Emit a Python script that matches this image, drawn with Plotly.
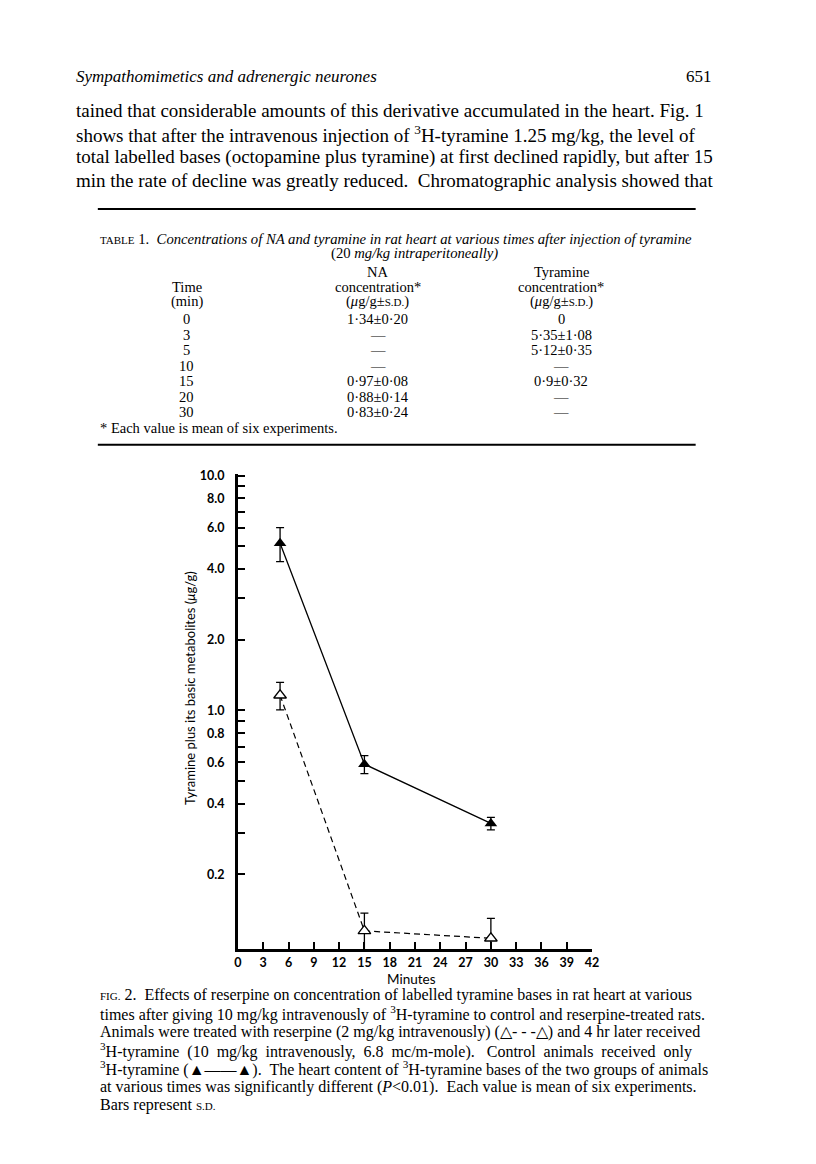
import plotly.graph_objects as go

# ---- Fig. 2 data ----
minutes = [5, 15, 30]
control_mean = [5.15, 0.59, 0.33]
control_sd = [0.85, 0.052, 0.02]
reserpine_mean = [1.16, 0.115, 0.107]
reserpine_sd = [0.155, 0.022, 0.023]

x_ticks = [0, 3, 6, 9, 12, 15, 18, 21, 24, 27, 30, 33, 36, 39, 42]
y_ticks = [0.2, 0.4, 0.6, 0.8, 1.0, 2.0, 4.0, 6.0, 8.0, 10.0]
y_ticktext = ["0.2", "0.4", "0.6", "0.8", "1.0", "2.0", "4.0", "6.0", "8.0", "10.0"]
y_minor = [0.3, 0.5, 0.7, 0.9, 3.0, 5.0, 7.0, 9.0]

# ---- Table 1 ----
table_time = ["0", "3", "5", "10", "15", "20", "30"]
table_na = ["1·34±0·20", "—", "—", "—", "0·97±0·08", "0·88±0·14", "0·83±0·24"]
table_tyr = ["0", "5·35±1·08", "5·12±0·35", "—", "0·9±0·32", "—", "—"]

body_lines = [
    "tained that considerable amounts of this derivative accumulated in the heart. Fig. 1",
    "shows that after the intravenous injection of <sup>3</sup>H-tyramine 1.25 mg/kg, the level of",
    "total labelled bases (octopamine plus tyramine) at first declined rapidly, but after 15",
    "min the rate of decline was greatly reduced.  Chromatographic analysis showed that",
]

SC = "<span style='font-size:11px'>%s</span>"
caption_lines = [
    SC % "FIG." + " 2.  Effects of reserpine on concentration of labelled tyramine bases in rat heart at various",
    "times after giving 10 mg/kg intravenously of <sup>3</sup>H-tyramine to control and reserpine-treated rats.",
    "Animals were treated with reserpine (2 mg/kg intravenously) (△- - -△) and 4 hr later received",
    "<sup>3</sup>H-tyramine  (10  mg/kg  intravenously,  6.8  mc/m-mole).   Control  animals  received  only",
    "<sup>3</sup>H-tyramine (▲——▲).  The heart content of <sup>3</sup>H-tyramine bases of the two groups of animals",
    "at various times was significantly different (<i>P</i><0.01).  Each value is mean of six experiments.",
    "Bars represent " + SC % "S.D.",
]

W, H = 816, 1164
SERIF = "Liberation Serif"
SANS = "Lato"


def px(x):
    return x / W


def py(y):
    return 1 - y / H


notes = []


def text(x, y, s, size, anchor="left", family=SERIF, **kw):
    d = dict(x=px(x), y=py(y), xref="paper", yref="paper", text=s, showarrow=False,
             xanchor=anchor, yanchor="middle",
             font=dict(family=family, size=size, color="black"))
    d.update(kw)
    notes.append(d)


# running head + body text
text(63, 63, "<i>Sympathomimetics and adrenergic neurones</i>", 17)
text(712, 63, "651", 17, anchor="right")
for i, line in enumerate(body_lines):
    text(63, 97 + 23.5 * i, line, 19)

# table
text(87, 226, SC % "TABLE" + " 1.  <i>Concentrations of NA and tyramine in rat heart at various times after injection of tyramine</i>", 14.7)
text(408, 241, "(20 <i>mg/kg intraperitoneally)</i>", 14.7, anchor="center")
text(371, 259, "NA", 14.5, anchor="center")
text(557, 259, "Tyramine", 14.5, anchor="center")
text(177, 274, "Time", 14.5, anchor="center")
text(371, 274, "concentration*", 14.5, anchor="center")
text(557, 274, "concentration*", 14.5, anchor="center")
text(177, 289, "(min)", 14.5, anchor="center")
text(371, 289, "(<i>μ</i>g/g±" + SC % "S.D." + ")", 14.5, anchor="center")
text(557, 289, "(<i>μ</i>g/g±" + SC % "S.D." + ")", 14.5, anchor="center")
for i in range(len(table_time)):
    yy = 307 + 15.5 * i
    text(177, yy, table_time[i], 14.5, anchor="center")
    text(371, yy, table_na[i], 14.5, anchor="center")
    text(557, yy, table_tyr[i], 14.5, anchor="center")
text(87, 416, "* Each value is mean of six experiments.", 14.5)

# figure labels
text(180, 678, "Tyramine plus its basic metabolites (<i>μ</i>g/g)", 13, anchor="center",
     family=SANS, textangle=-90)
text(405, 970, "Minutes", 13.5, anchor="center", family=SANS)
for i, line in enumerate(caption_lines):
    text(87, 986 + 18.5 * i, line, 16)

fig = go.Figure()
fig.add_trace(go.Scatter(
    x=minutes, y=reserpine_mean, mode="lines+markers", name="reserpine",
    line=dict(color="black", width=1.2, dash="6px,4px"),
    marker=dict(symbol="triangle-up", size=11, color="white",
                line=dict(color="black", width=1.3)),
    error_y=dict(type="data", array=reserpine_sd, color="black", thickness=1.3, width=4),
))
fig.add_trace(go.Scatter(
    x=minutes, y=control_mean, mode="lines+markers", name="control",
    line=dict(color="black", width=1.3),
    marker=dict(symbol="triangle-up", size=11, color="black"),
    error_y=dict(type="data", array=control_sd, color="black", thickness=1.3, width=4),
))

tickfont = dict(family=SANS, size=12.5, color="black", weight="bold")
fig.update_layout(
    width=W, height=H,
    margin=dict(l=0, r=0, t=0, b=0),
    paper_bgcolor="white", plot_bgcolor="white",
    showlegend=False,
    annotations=notes,
    shapes=[
        dict(type="line", xref="paper", yref="paper", x0=px(87), x1=px(693),
             y0=py(196), y1=py(196), line=dict(color="black", width=2)),
        dict(type="line", xref="paper", yref="paper", x0=px(87), x1=px(693),
             y0=py(433), y1=py(433), line=dict(color="black", width=2)),
    ],
    xaxis=dict(
        domain=[px(229), px(588)], range=[0, 42],
        tickmode="array", tickvals=x_ticks, ticks="inside", ticklen=7, tickwidth=1.5,
        tickcolor="black", tickfont=tickfont, showgrid=False, zeroline=False,
        showline=True, linecolor="black", linewidth=3,
    ),
    yaxis=dict(
        domain=[py(940), py(462)], type="log", range=[-1.017, 1.0085],
        tickmode="array", tickvals=y_ticks, ticktext=y_ticktext,
        ticks="inside", ticklen=7, tickwidth=1.5, tickcolor="black",
        ticklabelstandoff=8,
        minor=dict(tickmode="array", tickvals=y_minor, ticks="inside", ticklen=7,
                   tickwidth=1.5, tickcolor="black", showgrid=False),
        tickfont=tickfont, showgrid=False, zeroline=False,
        showline=True, linecolor="black", linewidth=3,
    ),
)

fig.write_html("out.html")
